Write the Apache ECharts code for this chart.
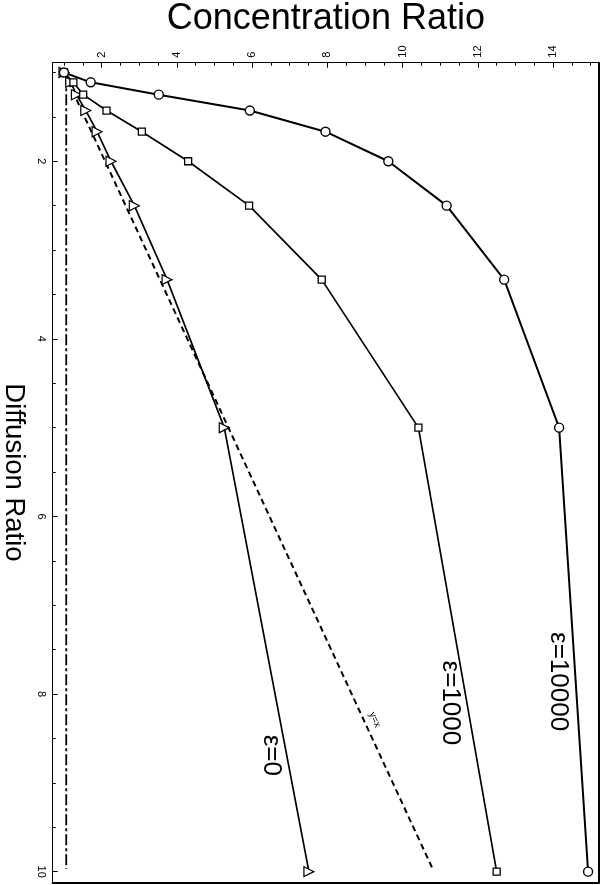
<!DOCTYPE html>
<html><head><meta charset="utf-8">
<script src="https://cdn.jsdelivr.net/npm/echarts@6/dist/echarts.min.js"></script>
<style>html,body{margin:0;padding:0;background:#fff}#c{width:600px;height:885px}</style>
</head><body><div id="c"></div>
<script>
// Diffusion ratio (vertical axis, read downward)
const diffusion = [1, 1.111, 1.25, 1.429, 1.667, 2, 2.5, 3.333, 5, 10];
// Concentration ratio per epsilon
const conc10000 = [1.0, 1.71, 3.52, 5.94, 7.95, 9.62, 11.17, 12.70, 14.16, 14.93];
const conc1000  = [1.0, 1.25, 1.51, 2.13, 3.07, 4.30, 5.92, 7.85, 10.42, 12.50];
const conc0     = [1.0, 1.18, 1.33, 1.58, 1.88, 2.25, 2.87, 3.74, 5.26, 7.51];
// reference lines [concentration, diffusion]
const yEqualsX = [[1.0, 1.0], [10.80, 9.97]];
const baseline = [[1.06, 1.02], [1.06, 9.97]];
// tick values
const xMajor = [2, 4, 6, 8, 10, 12, 14];
const xMinor = [1, 1.5, 2.5, 3, 3.5, 4.5, 5, 5.5, 6.5, 7, 7.5, 8.5, 9, 9.5, 10.5, 11, 11.5, 12.5, 13, 13.5, 14.5, 15];
const yMajor = [2, 4, 6, 8, 10];
const yMinor = [1, 1.5, 2.5, 3, 3.5, 4.5, 5, 5.5, 6.5, 7, 7.5, 8.5, 9, 9.5];
// annotations
const annoText = ['ε=10000', 'ε=1000', 'ε=0', 'y=x'];
const annoConc = [14.13, 11.26, 6.50, 9.26];
const annoDiff = [7.86, 8.10, 8.69, 8.29];

const FF = '"Liberation Sans", Arial, Helvetica, sans-serif';
const X_MIN = 0.7, X_MAX = 15.22, Y_MIN = 0.89, Y_MAX = 10.12;

function pairs(c) { return c.map((v, i) => [v, diffusion[i]]); }

const annoData = annoText.map((t, i) => ({
  value: [annoConc[i], annoDiff[i], t],
  label: {
    rotate: t === 'y=x' ? -65 : -90,
    fontSize: t === 'y=x' ? 10 : 26
  }
}));

const chart = echarts.init(document.getElementById('c'), null, {renderer: 'canvas'});
const blank = {show: false};
chart.setOption({
  animation: false,
  backgroundColor: '#fff',
  grid: {left: 52.7, right: 1, top: 62.7, bottom: 2.7, containLabel: false, outerBoundsMode: 'none'},
  xAxis: [
    {
      type: 'value', position: 'top', min: X_MIN, max: X_MAX,
      axisLine: {show: true, onZero: false, lineStyle: {color: '#000', width: 1}},
      axisTick: {show: true, inside: true, length: 5, customValues: xMajor, lineStyle: {color: '#000', width: 1}},
      axisLabel: {show: true, customValues: xMajor, rotate: -90, margin: 5, color: '#000', fontSize: 11, fontFamily: FF},
      splitLine: blank, minorTick: blank,
      name: 'Concentration Ratio', nameLocation: 'middle', nameGap: 24,
      nameTextStyle: {fontSize: 36, color: '#000', fontFamily: FF}
    },
    {
      type: 'value', position: 'top', min: X_MIN, max: X_MAX,
      axisLine: {show: false, onZero: false},
      axisTick: {show: true, inside: true, length: 3, customValues: xMinor, lineStyle: {color: '#000', width: 1}},
      axisLabel: blank, splitLine: blank
    },
    {
      type: 'value', position: 'bottom', min: X_MIN, max: X_MAX,
      axisLine: {show: true, onZero: false, lineStyle: {color: '#000', width: 2}},
      axisTick: blank, axisLabel: blank, splitLine: blank
    }
  ],
  yAxis: [
    {
      type: 'value', position: 'left', inverse: true, min: Y_MIN, max: Y_MAX,
      axisLine: {show: true, onZero: false, lineStyle: {color: '#000', width: 1}},
      axisTick: {show: true, inside: true, length: 5, customValues: yMajor, lineStyle: {color: '#000', width: 1}},
      axisLabel: {show: true, customValues: yMajor, rotate: -90, margin: 6, color: '#000', fontSize: 11, fontFamily: FF},
      splitLine: blank,
      name: 'Diffusion Ratio', nameLocation: 'middle', nameGap: 24, nameRotate: -90,
      nameTextStyle: {fontSize: 27.5, color: '#000', fontFamily: FF}
    },
    {
      type: 'value', position: 'left', inverse: true, min: Y_MIN, max: Y_MAX,
      axisLine: {show: false, onZero: false},
      axisTick: {show: true, inside: true, length: 3, customValues: yMinor, lineStyle: {color: '#000', width: 1}},
      axisLabel: blank, splitLine: blank
    },
    {
      type: 'value', position: 'right', inverse: true, min: Y_MIN, max: Y_MAX,
      axisLine: {show: true, onZero: false, lineStyle: {color: '#000', width: 2}},
      axisTick: blank, axisLabel: blank, splitLine: blank
    }
  ],
  series: [
    {
      name: 'baseline', type: 'line', data: baseline, symbol: 'none',
      lineStyle: {color: '#000', width: 1.8, type: [11, 3, 3, 3]}, z: 1
    },
    {
      name: 'y=x', type: 'line', data: yEqualsX, symbol: 'none',
      lineStyle: {color: '#000', width: 2, type: [6, 4]}, z: 1
    },
    {
      name: 'eps0', type: 'line', data: pairs(conc0),
      symbol: 'triangle', symbolSize: 10, symbolRotate: -90, showAllSymbol: true,
      lineStyle: {color: '#000', width: 1.7},
      itemStyle: {color: '#fff', borderColor: '#000', borderWidth: 1.2}, z: 3
    },
    {
      name: 'eps1000', type: 'line', data: pairs(conc1000),
      symbol: 'rect', symbolSize: 7, showAllSymbol: true,
      lineStyle: {color: '#000', width: 1.7},
      itemStyle: {color: '#fff', borderColor: '#000', borderWidth: 1.3}, z: 3
    },
    {
      name: 'eps10000', type: 'line', data: pairs(conc10000),
      symbol: 'circle', symbolSize: 9, showAllSymbol: true,
      lineStyle: {color: '#000', width: 2},
      itemStyle: {color: '#fff', borderColor: '#000', borderWidth: 1.4}, z: 3
    },
    {
      name: 'labels', type: 'scatter', data: annoData, symbolSize: 0,
      itemStyle: {opacity: 1},
      label: {
        show: true, position: 'inside', color: '#000', opacity: 1, fontFamily: FF,
        formatter: p => p.value[2]
      },
      silent: true, z: 5
    }
  ]
});
</script>
</body></html>
